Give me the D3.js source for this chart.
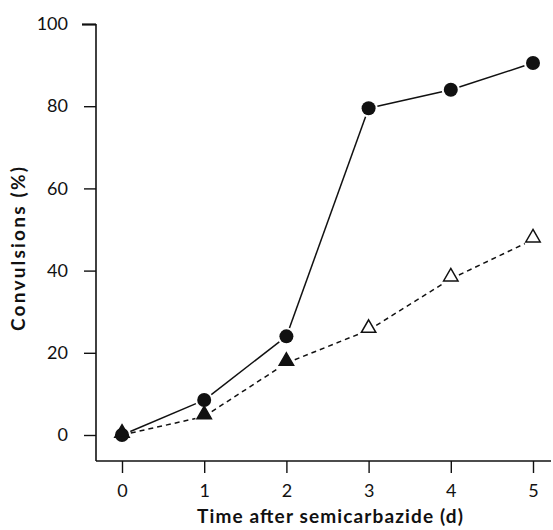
<!DOCTYPE html>
<html>
<head>
<meta charset="utf-8">
<script src="https://cdn.jsdelivr.net/npm/d3@7"></script>
<style>
  body { margin: 0; background: #fff; }
  .tick text { font-family: Lato, "DejaVu Sans Condensed", sans-serif; font-size: 18px; fill: #111; }
  .title { font-family: Lato, "DejaVu Sans", sans-serif; font-weight: bold; font-size: 19px; fill: #111; }
</style>
</head>
<body>
<div id="chart"></div>
<script>
// Days after semicarbazide
var days = [0, 1, 2, 3, 4, 5];
// Convulsions (%) - filled circles, solid line
var circleSeries = [0, 8.5, 24, 79.5, 84, 90.5];
// Convulsions (%) - triangles, dashed line
var triangleSeries = [0, 4.5, 17.5, 25.5, 38, 47.5];
// Triangles filled for the first three points, open afterwards
var triangleFilled = [true, true, true, false, false, false];

var yTicks = [0, 20, 40, 60, 80, 100];
var xTicks = [0, 1, 2, 3, 4, 5];

var width = 553, height = 530;

var svg = d3.select("#chart")
    .append("svg")
        .attr("width", width)
        .attr("height", height);

// Scales
var x = d3.scaleLinear().domain([0, 5]).range([122, 533]);
var y = d3.scaleLinear().domain([0, 100]).range([435, 24]);

var axisX = 96, axisY = 461;

// Y axis
var yAxis = svg.append("g")
    .attr("transform", "translate(" + axisX + ",0)")
    .call(d3.axisLeft(y).tickValues(yTicks).tickFormat(d3.format("d")).tickSize(12).tickPadding(16));
yAxis.select(".domain").remove();
yAxis.append("line")
    .attr("x1", 0).attr("x2", 0)
    .attr("y1", y(100)).attr("y2", axisY)
    .attr("stroke", "#111").attr("stroke-width", 1.6);
yAxis.selectAll(".tick line").attr("stroke", "#111").attr("stroke-width", 1.4);
yAxis.selectAll(".tick").filter(function(d) { return d === 100; })
    .select("line").attr("x2", -14).attr("stroke-width", 2.2);

// X axis
var xAxis = svg.append("g")
    .attr("transform", "translate(0," + axisY + ")")
    .call(d3.axisBottom(x).tickValues(xTicks).tickFormat(d3.format("d")).tickSize(12).tickPadding(11));
xAxis.select(".domain").remove();
xAxis.append("line")
    .attr("x1", axisX).attr("x2", 551)
    .attr("y1", 0).attr("y2", 0)
    .attr("stroke", "#111").attr("stroke-width", 1.6);
xAxis.selectAll(".tick line").attr("stroke", "#111").attr("stroke-width", 1.4);

// Axis titles
svg.append("text")
    .attr("class", "title")
    .attr("x", 330)
    .attr("y", 523)
    .attr("text-anchor", "middle")
    .attr("textLength", 266)
    .text("Time after semicarbazide (d)");

svg.append("text")
    .attr("class", "title")
    .attr("transform", "translate(25,249) rotate(-90)")
    .attr("text-anchor", "middle")
    .attr("textLength", 164)
    .text("Convulsions (%)");

// Draw segments between points, stopping short of the markers
function drawSegments(values, gap, dash) {
    for (var i = 0; i < values.length - 1; i++) {
        var x1 = x(days[i]), y1 = y(values[i]);
        var x2 = x(days[i + 1]), y2 = y(values[i + 1]);
        var len = Math.sqrt((x2 - x1) * (x2 - x1) + (y2 - y1) * (y2 - y1));
        var ux = (x2 - x1) / len, uy = (y2 - y1) / len;
        svg.append("line")
            .attr("x1", x1 + ux * gap).attr("y1", y1 + uy * gap)
            .attr("x2", x2 - ux * gap).attr("y2", y2 - uy * gap)
            .attr("stroke", "#111")
            .attr("stroke-width", 1.5)
            .attr("stroke-dasharray", dash);
    }
}

drawSegments(triangleSeries, 9, "5,4");
drawSegments(circleSeries, 9, null);

// Circle markers
svg.selectAll(".dot")
    .data(circleSeries)
    .enter().append("circle")
    .attr("class", "dot")
    .attr("cx", function(d, i) { return x(days[i]); })
    .attr("cy", function(d) { return y(d); })
    .attr("r", 7)
    .attr("fill", "#111");

// Triangle markers
var tri = d3.symbol().type(d3.symbolTriangle).size(90);
svg.selectAll(".tri")
    .data(triangleSeries)
    .enter().append("path")
    .attr("class", "tri")
    .attr("d", tri)
    .attr("transform", function(d, i) { return "translate(" + x(days[i]) + "," + (y(d) - 2) + ")"; })
    .attr("fill", function(d, i) { return triangleFilled[i] ? "#111" : "#fff"; })
    .attr("stroke", "#111")
    .attr("stroke-width", 1.5);
</script>
</body>
</html>
